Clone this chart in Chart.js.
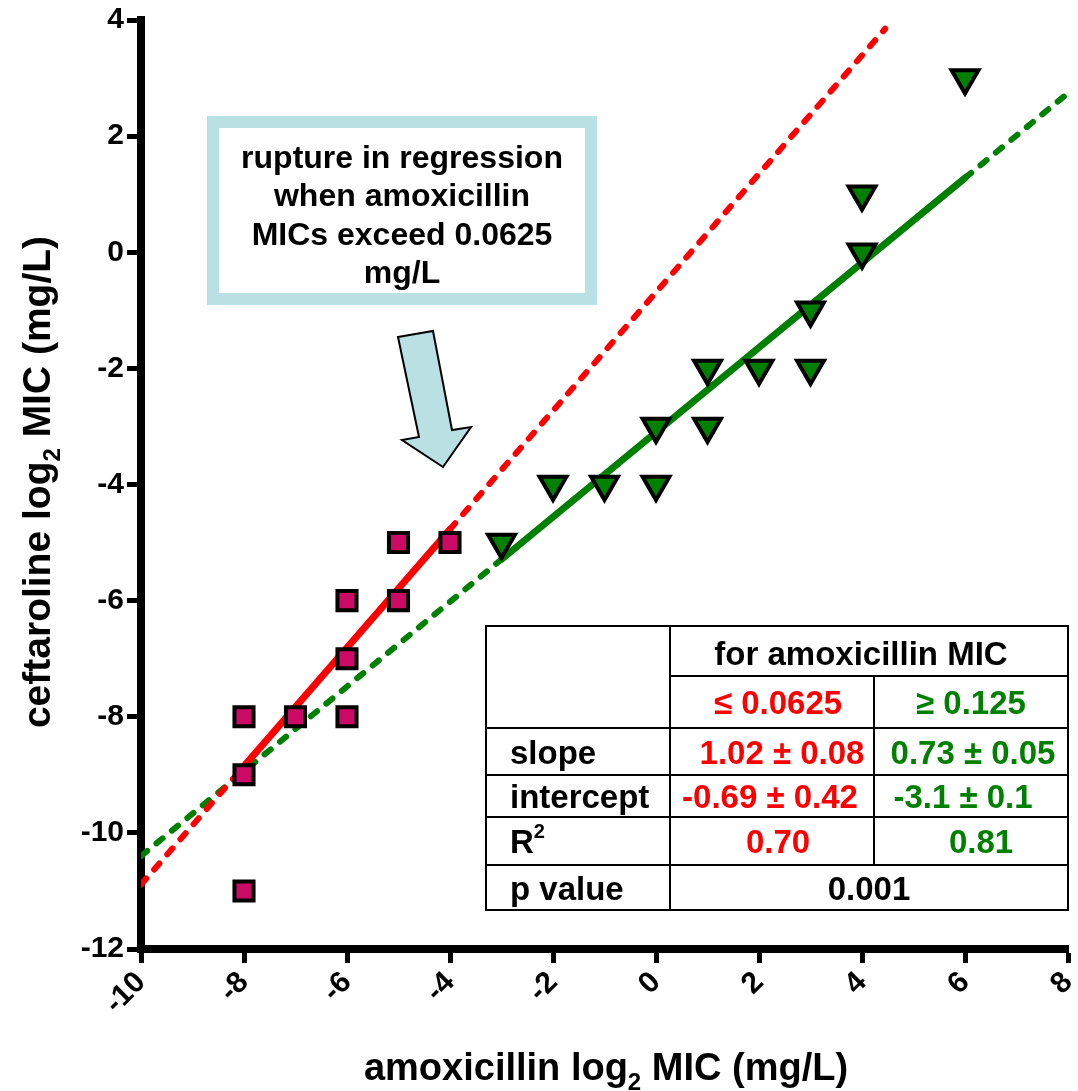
<!DOCTYPE html>
<html>
<head>
<meta charset="utf-8">
<script src="https://cdn.jsdelivr.net/npm/chart.js@4.4.1/dist/chart.umd.min.js"></script>
<style>
  html, body { margin: 0; padding: 0; background: #fff; }
</style>
</head>
<body>
<canvas id="chart" width="1078" height="1091"></canvas>
<script>
// amoxicillin MIC <= 0.0625 mg/L (squares)
const lowX = [-8, -8, -8, -7, -6, -6, -6, -5, -5, -4];
const lowY = [-8, -9, -11, -8, -6, -7, -8, -5, -6, -5];
// amoxicillin MIC >= 0.125 mg/L (triangles)
const highX = [-3, -2, -1, 0, 0, 1, 1, 2, 3, 3, 4, 4, 6];
const highY = [-5, -4, -4, -3, -4, -2, -3, -2, -1, -2, 1, 0, 3];

// regression fits: [slope, intercept]
const lowFit = [1.02, -0.69];
const highFit = [0.73, -3.1];
// x ranges of the solid part and of the dotted extensions
const lowSolid = [-8, -4];
const lowDotted = [[-10, -8], [-4, 4.45]];
const highSolid = [-3, 6];
const highDotted = [[-10, -3], [6, 8]];

const xTicks = [-10, -8, -6, -4, -2, 0, 2, 4, 6, 8];
const yTicks = [-12, -10, -8, -6, -4, -2, 0, 2, 4];

const RED = '#ff0000';
const GREEN = '#008000';
const FONT = '"Liberation Sans", Arial, sans-serif';

function pts(xs, ys) {
    return xs.map((x, i) => ({ x: x, y: ys[i] }));
}
function fitLine(fit, range) {
    return range.map(x => ({ x: x, y: fit[0] * x + fit[1] }));
}
function lineSet(data, color, dotted) {
    return {
        type: 'line', data: data, order: 2,
        borderColor: color, borderWidth: dotted ? 6 : 7,
        borderDash: dotted ? [8, 12] : [], borderCapStyle: 'round',
        pointRadius: 0, fill: false, tension: 0
    };
}

// draws text made of normal / sub / sup pieces, centered or left aligned
function richText(ctx, parts, x, y, size, align) {
    const big = 'bold ' + size + 'px ' + FONT;
    const small = 'bold ' + Math.round(size * 0.62) + 'px ' + FONT;
    let total = 0;
    parts.forEach(p => {
        ctx.font = p.sub || p.sup ? small : big;
        total += ctx.measureText(p.t).width;
    });
    let cx = align === 'center' ? x - total / 2 : x;
    ctx.textAlign = 'left';
    ctx.textBaseline = 'alphabetic';
    parts.forEach(p => {
        ctx.font = p.sub || p.sup ? small : big;
        let dy = p.sub ? size * 0.25 : (p.sup ? -size * 0.45 : 0);
        ctx.fillText(p.t, cx, y + dy);
        cx += ctx.measureText(p.t).width;
    });
}

const extras = {
    id: 'extras',
    afterDraw(chart) {
        const ctx = chart.ctx;
        ctx.save();
        ctx.fillStyle = '#000';

        // axis titles
        richText(ctx, [{ t: 'amoxicillin log' }, { t: '2', sub: true }, { t: ' MIC (mg/L)' }], 606, 1080, 38, 'center');
        ctx.save();
        ctx.translate(50, 482);
        ctx.rotate(-Math.PI / 2);
        richText(ctx, [{ t: 'ceftaroline log' }, { t: '2', sub: true }, { t: ' MIC (mg/L)' }], 0, 0, 39, 'center');
        ctx.restore();

        // annotation box
        ctx.strokeStyle = '#b9e0e3';
        ctx.lineWidth = 12;
        ctx.strokeRect(213, 122, 378, 177);
        ctx.fillStyle = '#000';
        ctx.font = 'bold 32px ' + FONT;
        ctx.textAlign = 'center';
        ctx.textBaseline = 'middle';
        ['rupture in regression', 'when amoxicillin', 'MICs exceed 0.0625', 'mg/L'].forEach((s, i) => {
            ctx.fillText(s, 402, 159 + i * 38.5);
        });

        // arrow
        ctx.beginPath();
        ctx.moveTo(398, 337);
        ctx.lineTo(433, 331);
        ctx.lineTo(452, 430);
        ctx.lineTo(471, 427);
        ctx.lineTo(443, 467);
        ctx.lineTo(402, 440);
        ctx.lineTo(419, 437);
        ctx.closePath();
        ctx.fillStyle = '#b9e0e3';
        ctx.fill();
        ctx.strokeStyle = '#000';
        ctx.lineWidth = 2;
        ctx.stroke();

        // stats table
        const L = 486, C1 = 670, C2 = 874, R = 1068;
        const rows = [626, 676, 728, 775, 817, 865, 910];
        ctx.fillStyle = '#fff';
        ctx.fillRect(L, rows[0], R - L, rows[6] - rows[0]);
        ctx.strokeStyle = '#000';
        ctx.lineWidth = 2;
        ctx.beginPath();
        ctx.rect(L, rows[0], R - L, rows[6] - rows[0]);
        ctx.moveTo(C1, rows[0]); ctx.lineTo(C1, rows[6]);
        ctx.moveTo(C2, rows[1]); ctx.lineTo(C2, rows[5]);
        ctx.moveTo(C1, rows[1]); ctx.lineTo(R, rows[1]);
        for (let i = 2; i <= 5; i++) { ctx.moveTo(L, rows[i]); ctx.lineTo(R, rows[i]); }
        ctx.stroke();

        const fs = 33;
        const mid = i => (rows[i] + rows[i + 1]) / 2 + 12;
        const c2 = (C1 + C2) / 2, c3 = (C2 + R) / 2, c23 = (C1 + R) / 2;
        ctx.fillStyle = '#000';
        richText(ctx, [{ t: 'for amoxicillin MIC' }], c23 - 8, mid(0) + 2, fs, 'center');
        ctx.fillStyle = RED;
        richText(ctx, [{ t: '\u2264 0.0625' }], c2 + 6, mid(1), fs, 'center');
        ctx.fillStyle = GREEN;
        richText(ctx, [{ t: '\u2265 0.125' }], c3, mid(1), fs, 'center');

        ctx.fillStyle = '#000';
        richText(ctx, [{ t: 'slope' }], 510, mid(2), fs, 'left');
        richText(ctx, [{ t: 'intercept' }], 510, mid(3), fs, 'left');
        richText(ctx, [{ t: 'R' }, { t: '2', sup: true }], 510, mid(4), fs, 'left');
        richText(ctx, [{ t: 'p value' }], 510, mid(5), fs, 'left');

        ctx.fillStyle = RED;
        richText(ctx, [{ t: '1.02 \u00b1 0.08' }], c2 + 10, mid(2), fs, 'center');
        richText(ctx, [{ t: '-0.69 \u00b1 0.42' }], c2 - 2, mid(3), fs, 'center');
        richText(ctx, [{ t: '0.70' }], c2 + 6, mid(4), fs, 'center');
        ctx.fillStyle = GREEN;
        richText(ctx, [{ t: '0.73 \u00b1 0.05' }], c3 + 2, mid(2), fs, 'center');
        richText(ctx, [{ t: '-3.1 \u00b1 0.1' }], c3 - 8, mid(3), fs, 'center');
        richText(ctx, [{ t: '0.81' }], c3 + 10, mid(4), fs, 'center');
        ctx.fillStyle = '#000';
        richText(ctx, [{ t: '0.001' }], c23, mid(5), fs, 'center');

        ctx.restore();
    }
};

const tickFont = { family: FONT, size: 30, weight: 'bold' };

new Chart(document.getElementById('chart').getContext('2d'), {
    type: 'scatter',
    data: {
        datasets: [
            {
                data: pts(lowX, lowY), order: 0,
                pointStyle: 'rect', pointRadius: 13.5, borderWidth: 4,
                backgroundColor: '#cc0a66', borderColor: '#000'
            },
            {
                data: pts(highX, highY), order: 0,
                pointStyle: 'triangle', rotation: 180, pointRadius: 15.5, borderWidth: 4,
                backgroundColor: GREEN, borderColor: '#000'
            },
            lineSet(fitLine(lowFit, lowSolid), RED, false),
            lineSet(fitLine(lowFit, lowDotted[0]), RED, true),
            lineSet(fitLine(lowFit, lowDotted[1]), RED, true),
            lineSet(fitLine(highFit, highSolid), GREEN, false),
            lineSet(fitLine(highFit, highDotted[0]), GREEN, true),
            lineSet(fitLine(highFit, highDotted[1]), GREEN, true)
        ]
    },
    options: {
        responsive: false,
        animation: false,
        layout: { autoPadding: false, padding: { top: 20, right: 10, left: 0, bottom: 0 } },
        plugins: { legend: { display: false }, tooltip: { enabled: false } },
        scales: {
            x: {
                type: 'linear', min: -10, max: 8,
                afterBuildTicks: s => { s.ticks = xTicks.map(v => ({ value: v })); },
                afterFit: s => { s.height = 142; s.paddingLeft = 0; s.paddingRight = 0; },
                grid: { drawOnChartArea: false, drawTicks: true, tickLength: 14, tickWidth: 5, tickColor: '#000' },
                border: { display: true, width: 8, color: '#000' },
                ticks: { font: tickFont, color: '#000', maxRotation: 45, minRotation: 45, padding: 2 }
            },
            y: {
                type: 'linear', min: -12, max: 4,
                afterBuildTicks: s => { s.ticks = yTicks.map(v => ({ value: v })); },
                afterFit: s => { s.width = 141; s.paddingTop = 0; s.paddingBottom = 0; },
                grid: { drawOnChartArea: false, drawTicks: true, tickLength: 14, tickWidth: 5, tickColor: '#000' },
                border: { display: true, width: 8, color: '#000' },
                ticks: { font: tickFont, color: '#000', padding: 3 }
            }
        }
    },
    plugins: [extras]
});
</script>
</body>
</html>
